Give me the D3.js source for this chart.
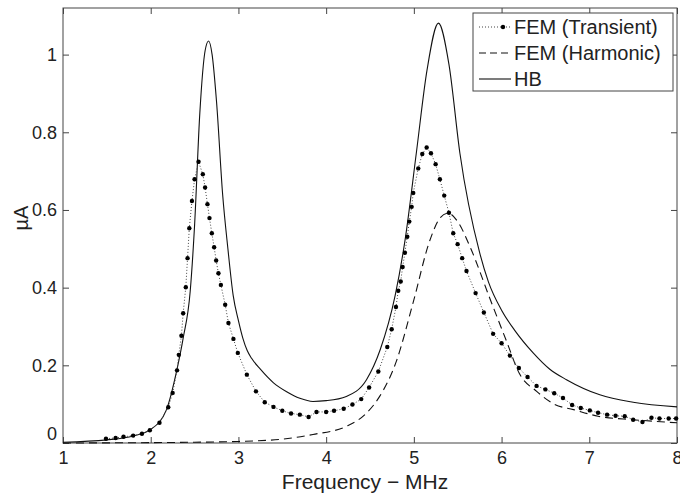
<!DOCTYPE html>
<html>
<head>
<meta charset="utf-8">
<script src="https://cdn.jsdelivr.net/npm/d3@7"></script>
<style>
  body { margin: 0; background: #fff; }
  svg { display: block; font-family: Arial, "Liberation Sans", sans-serif; }
</style>
</head>
<body>
<svg id="chart" width="680" height="496"></svg>
<script>
// x tick labels (MHz) and y ticks (uA)
var xTicks = [1, 2, 3, 4, 5, 6, 7, 8];
var yTicks = [0, 0.2, 0.4, 0.6, 0.8, 1];

// FEM (Transient)
var transF = [1.49, 1.60, 1.69, 1.80, 1.90, 1.99, 2.10, 2.20, 2.25, 2.30, 2.32, 2.35, 2.37, 2.40, 2.42, 2.44, 2.47, 2.50, 2.545,
  2.594, 2.62, 2.647, 2.67, 2.697, 2.723, 2.746, 2.772, 2.80, 2.849, 2.886, 2.943, 2.993, 3.096, 3.20, 3.30, 3.40, 3.50, 3.60,
  3.70, 3.80, 3.89, 4.00, 4.09, 4.20, 4.30, 4.40, 4.49, 4.595, 4.697, 4.747, 4.796, 4.822, 4.85, 4.872, 4.898, 4.925, 4.948,
  4.975, 4.993, 5.05, 5.096, 5.146, 5.195, 5.248, 5.297, 5.346, 5.40, 5.449, 5.499, 5.551, 5.60, 5.704, 5.798, 5.904, 6.00,
  6.095, 6.197, 6.296, 6.399, 6.50, 6.60, 6.70, 6.804, 6.903, 7.006, 7.10, 7.203, 7.30, 7.404, 7.50, 7.606, 7.709, 7.80, 7.905, 7.99];
var transV = [0.011, 0.013, 0.016, 0.019, 0.024, 0.033, 0.052, 0.092, 0.129, 0.187, 0.227, 0.276, 0.334, 0.401, 0.476, 0.553, 0.623, 0.679, 0.724,
  0.692, 0.658, 0.615, 0.579, 0.54, 0.504, 0.47, 0.437, 0.407, 0.356, 0.309, 0.268, 0.232, 0.176, 0.133, 0.105, 0.093, 0.083, 0.076,
  0.073, 0.067, 0.08, 0.08, 0.083, 0.088, 0.099, 0.113, 0.143, 0.184, 0.247, 0.293, 0.35, 0.392, 0.416, 0.453, 0.49, 0.531, 0.57,
  0.608, 0.644, 0.707, 0.744, 0.761, 0.746, 0.718, 0.679, 0.637, 0.593, 0.54, 0.512, 0.476, 0.443, 0.386, 0.336, 0.281, 0.257,
  0.225, 0.193, 0.17, 0.147, 0.138, 0.128, 0.116, 0.098, 0.09, 0.084, 0.078, 0.073, 0.07, 0.069, 0.06, 0.054, 0.065, 0.063, 0.063, 0.063];

// FEM (Harmonic)
var harmF = [1.0, 2.0, 2.5, 3.0, 3.5, 3.85, 4.23, 4.46, 4.61, 4.8, 4.99, 5.18, 5.3, 5.39, 5.5, 5.65, 5.87, 6.06, 6.2, 6.4, 6.6, 6.82, 7.1, 7.5, 8.0];
var harmV = [0.0, 0.001, 0.002, 0.004, 0.01, 0.022, 0.043, 0.077, 0.12, 0.21, 0.36, 0.52, 0.58, 0.592, 0.57, 0.5, 0.37, 0.26, 0.18, 0.133, 0.1, 0.086, 0.069, 0.06, 0.052];

// HB
var hbF = [1.0, 1.5, 1.8, 2.0, 2.18, 2.3, 2.37, 2.45, 2.5, 2.56, 2.62, 2.66, 2.7, 2.75, 2.82, 2.88, 2.94, 3.0, 3.05, 3.1, 3.15, 3.25, 3.4, 3.55, 3.7, 3.85, 4.0,
  4.23, 4.46, 4.616, 4.787, 4.9, 5.03, 5.15, 5.28, 5.4, 5.525, 5.75, 5.85, 6.0, 6.15, 6.36, 6.55, 6.74, 7.12, 7.5, 8.0];
var hbV = [0.002, 0.008, 0.018, 0.035, 0.086, 0.19, 0.27, 0.39, 0.56, 0.85, 1.01, 1.035, 1.0, 0.88, 0.64, 0.5, 0.38, 0.315, 0.27, 0.238, 0.218, 0.19, 0.155, 0.132, 0.115, 0.107, 0.109,
  0.12, 0.163, 0.24, 0.38, 0.523, 0.75, 0.96, 1.081, 0.975, 0.746, 0.49, 0.415, 0.342, 0.29, 0.232, 0.19, 0.163, 0.124, 0.105, 0.093];

var margin = {top: 8, right: 3, bottom: 53, left: 63},
    width = 680 - margin.left - margin.right,
    height = 496 - margin.top - margin.bottom;

var svg = d3.select("#chart"),
    g = svg.append("g").attr("transform", "translate(" + margin.left + "," + margin.top + ")");

var x = d3.scaleLinear().domain([1, 8]).range([0, width]);
var y = d3.scaleLinear().domain([0, 1.12]).range([height, 0]);

var axisColor = "#444";
var fmt = d3.format("~g");

// axes with inward ticks (matlab style)
var xAx = g.append("g").attr("transform", "translate(0," + height + ")")
  .call(d3.axisBottom(x).tickValues(xTicks).tickFormat(fmt).tickSizeInner(-6).tickSizeOuter(0).tickPadding(8));
var xTop = g.append("g")
  .call(d3.axisTop(x).tickValues(xTicks).tickFormat("").tickSizeInner(-6).tickSizeOuter(0));
var yAx = g.append("g")
  .call(d3.axisLeft(y).tickValues(yTicks).tickFormat(fmt).tickSizeInner(-6).tickSizeOuter(0).tickPadding(6));
var yRight = g.append("g").attr("transform", "translate(" + width + ",0)")
  .call(d3.axisRight(y).tickValues(yTicks).tickFormat("").tickSizeInner(-6).tickSizeOuter(0));

[xAx, xTop, yAx, yRight].forEach(function(a) {
  a.select(".domain").remove();
  a.selectAll("line").attr("stroke", axisColor);
  a.selectAll("text").attr("fill", "#222").style("font-size", "18px");
});
// the 0 label sits a bit above its tick in the original
yAx.selectAll("text").filter(function(d) { return d === 0; }).attr("y", -9);

// frame
g.append("rect")
  .attr("width", width).attr("height", height)
  .attr("fill", "none").attr("stroke", axisColor).attr("stroke-width", 1);

// curves
var line = d3.line()
  .x(function(d) { return x(d[0]); })
  .y(function(d) { return y(d[1]); })
  .curve(d3.curveMonotoneX);

var hb = d3.zip(hbF, hbV),
    harm = d3.zip(harmF, harmV),
    trans = d3.zip(transF, transV);

var plot = g.append("g");

plot.append("path").datum(hb)
  .attr("fill", "none").attr("stroke", "#111").attr("stroke-width", 1.1)
  .attr("d", line);

plot.append("path").datum(harm)
  .attr("fill", "none").attr("stroke", "#111").attr("stroke-width", 1.1)
  .attr("stroke-dasharray", "8,5")
  .attr("d", line);

plot.append("path").datum(trans)
  .attr("fill", "none").attr("stroke", "#444").attr("stroke-width", 1)
  .attr("stroke-dasharray", "1,2")
  .attr("d", d3.line().x(function(d) { return x(d[0]); }).y(function(d) { return y(d[1]); }));

plot.selectAll(".mk").data(trans)
  .enter().append("circle")
  .attr("class", "mk")
  .attr("cx", function(d) { return x(d[0]); })
  .attr("cy", function(d) { return y(d[1]); })
  .attr("r", 2.2)
  .attr("fill", "#000");

// axis titles
svg.append("text")
  .attr("x", margin.left + width / 2 - 5).attr("y", 489)
  .attr("text-anchor", "middle").attr("fill", "#222")
  .style("font-size", "21px")
  .text("Frequency \u2212 MHz");

svg.append("text")
  .attr("transform", "translate(28," + 218 + ") rotate(-90)")
  .attr("text-anchor", "middle").attr("fill", "#222")
  .style("font-size", "20px")
  .text("\u00b5A");

// legend
var legendNames = ["FEM (Transient)", "FEM (Harmonic)", "HB"];
var legend = svg.append("g").attr("transform", "translate(473,13)");
legend.append("rect")
  .attr("width", 200).attr("height", 78)
  .attr("fill", "#fff").attr("stroke", axisColor);

legendNames.forEach(function(name, i) {
  var ly = 14 + i * 26;
  var seg = legend.append("line")
    .attr("x1", 6).attr("x2", 38).attr("y1", ly).attr("y2", ly)
    .attr("stroke", i === 0 ? "#444" : "#111").attr("stroke-width", 1.1);
  if (i === 0) {
    seg.attr("stroke-dasharray", "1,2");
    legend.append("circle").attr("cx", 30).attr("cy", ly).attr("r", 2.2).attr("fill", "#000");
  }
  if (i === 1) seg.attr("stroke-dasharray", "7,4");
  legend.append("text")
    .attr("x", 41).attr("y", ly).attr("dy", "0.36em")
    .attr("fill", "#222").style("font-size", "20px")
    .text(name);
});
</script>
</body>
</html>
